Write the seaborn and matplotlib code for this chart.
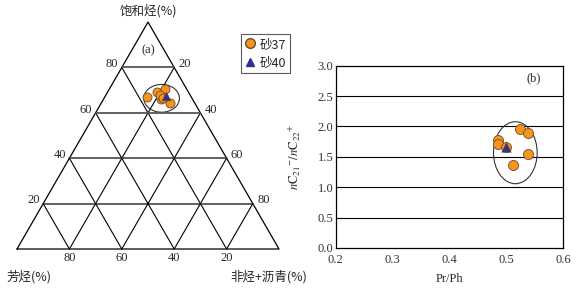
import numpy as np
import pandas as pd
import matplotlib
matplotlib.use("Agg")
import matplotlib.pyplot as plt
from matplotlib.patches import Ellipse
from matplotlib.lines import Line2D
import seaborn as sns

# ternary data (a): saturates / aromatics / non-hydrocarbons+asphaltenes (%)
sat_37 = [67.1, 69.0, 70.7, 65.9, 64.2, 67.9, 66.5]
aro_37 = [17.0, 12.2, 8.3, 11.9, 9.5, 11.4, 11.0]
non_37 = [15.9, 18.8, 21.0, 22.2, 26.3, 20.7, 22.5]
sat_40 = [67.4]
aro_40 = [9.5]
non_40 = [23.1]

# panel (b): Pr/Ph vs nC21-/nC22+
prph_37 = [0.486, 0.486, 0.500, 0.524, 0.538, 0.538, 0.512]
ratio_37 = [1.78, 1.71, 1.67, 1.96, 1.89, 1.55, 1.36]
prph_40 = [0.500]
ratio_40 = [1.66]

grid_levels = [20, 40, 60, 80]
yticks_b = [0.0, 0.5, 1.0, 1.5, 2.0, 2.5, 3.0]
xticks_b = [0.2, 0.3, 0.4, 0.5, 0.6]

ORANGE = "#F7941D"
NAVY = "#2E3192"
EDGE = "#6b4a2a"

sns.set_style("white")
plt.rcParams["font.family"] = ["Liberation Serif", "Noto Sans CJK SC"]
plt.rcParams["mathtext.fontset"] = "stix"
CJK = ["Noto Sans CJK SC", "Liberation Serif"]
FS = 9

H = np.sqrt(3) / 2


def tern(sat, non):
    sat = np.asarray(sat) / 100.0
    non = np.asarray(non) / 100.0
    return non + sat / 2, sat * H


fig = plt.figure(figsize=(5.81, 2.89), dpi=100)

# ---------------- (a) ternary ----------------
ax = fig.add_axes([0, 0, 300 / 581, 1])
ax.set_xlim(-17 / 262, 283 / 262)
ax.set_ylim(-40 / 262, 249 / 262)
ax.axis("off")

ax.plot([0, 1, 0.5, 0], [0, 0, H, 0], color="black", lw=0.9)
for g in grid_levels:
    f = g / 100
    # constant saturates (horizontal)
    ax.plot([f / 2, 1 - f / 2], [f * H, f * H], color="#555555", lw=1.3)
    # constant non-hydrocarbons
    ax.plot([f, f + (1 - f) / 2], [0, (1 - f) * H], color="black", lw=0.8)
    # constant aromatics
    ax.plot([1 - f, (1 - f) / 2], [0, (1 - f) * H], color="black", lw=0.8)
    # labels
    ax.text(f / 2 - 0.037, f * H + 0.012, str(g), ha="center", va="center", fontsize=FS)
    ax.text(1 - f / 2 + 0.04, f * H + 0.012, str(100 - g), ha="center", va="center", fontsize=FS)
    ax.text(f, -0.036, str(100 - g), ha="center", va="center", fontsize=FS)

ax.text(0.5, H + 0.042, "饱和烃(%)", ha="center", va="center", fontsize=FS, family=CJK)
ax.text(-0.04, -0.105, "芳烃(%)", ha="left", va="center", fontsize=FS, family=CJK)
ax.text(0.96, -0.105, "非烃+沥青(%)", ha="center", va="center", fontsize=FS, family=CJK)
ax.text(0.5, H - 0.106, "(a)", ha="center", va="center", fontsize=FS)

ex, ey = tern([66.4], [22.0])
ax.add_patch(Ellipse((ex[0], ey[0]), 0.136, 0.106, fill=False, ec="#333333", lw=0.8))

x37, y37 = tern(sat_37, non_37)
x40, y40 = tern(sat_40, non_40)
sns.scatterplot(x=x37, y=y37, ax=ax, marker="o", s=42, color=ORANGE,
                edgecolor=EDGE, linewidth=0.6, zorder=3)
sns.scatterplot(x=x40, y=y40, ax=ax, marker="^", s=38, color=NAVY,
                edgecolor=EDGE, linewidth=0.5, zorder=4)

handles = [
    Line2D([], [], marker="o", ls="", markerfacecolor=ORANGE, markeredgecolor=EDGE,
           markersize=7, label="砂37"),
    Line2D([], [], marker="^", ls="", markerfacecolor=NAVY, markeredgecolor=NAVY,
           markersize=5.5, label="砂40"),
]
leg = fig.legend(handles=handles, loc="upper left", bbox_to_anchor=(241 / 581, 1 - 34 / 289),
                 frameon=True, fancybox=False, edgecolor="#333333", fontsize=FS,
                 handletextpad=0.3, handlelength=0.9, borderpad=0.3, labelspacing=0.45,
                 borderaxespad=0, handleheight=0.9)
leg.get_frame().set_linewidth(0.8)
for t in leg.get_texts():
    t.set_family(CJK)

# ---------------- (b) Pr/Ph ----------------
bx = fig.add_axes([335.7 / 581, 1 - 248 / 289, 227.6 / 581, 182.3 / 289])
df37 = pd.DataFrame({"prph": prph_37, "ratio": ratio_37})
df40 = pd.DataFrame({"prph": prph_40, "ratio": ratio_40})

for yv in yticks_b[1:-1]:
    bx.axhline(yv, color="black", lw=0.8, zorder=1)
bx.add_patch(Ellipse((0.5157, 1.568), 0.0767, 1.02, fill=False, ec="#333333", lw=0.8, zorder=2))
sns.scatterplot(data=df37, x="prph", y="ratio", ax=bx, marker="o", s=52, color=ORANGE,
                edgecolor=EDGE, linewidth=0.6, zorder=3)
sns.scatterplot(data=df40, x="prph", y="ratio", ax=bx, marker="^", s=46, color=NAVY,
                edgecolor=EDGE, linewidth=0.5, zorder=4)

bx.set_xlim(0.2, 0.6)
bx.set_ylim(0, 3.0)
bx.set_xticks(xticks_b)
bx.set_yticks(yticks_b)
bx.set_xticklabels([f"{v:.1f}" for v in xticks_b], fontsize=9, color="#333333")
bx.set_yticklabels([f"{v:.1f}" for v in yticks_b], fontsize=9, color="#333333")
bx.tick_params(axis="x", direction="in", length=3, width=0.8, pad=4.5)
bx.tick_params(axis="y", direction="in", length=3, width=0.8, pad=1.5)
for sp in bx.spines.values():
    sp.set_color("black")
    sp.set_linewidth(0.9)
bx.set_xlabel("Pr/Ph", fontsize=9, labelpad=5)
bx.set_ylabel(r"$n\mathrm{C}_{21}{}^{-}/n\mathrm{C}_{22}{}^{+}$", fontsize=9)
bx.yaxis.set_label_coords(-0.145, 0.5)
bx.text(0.548, 2.79, "(b)", ha="center", va="center", fontsize=FS)

fig.savefig("out.png", dpi=100)
